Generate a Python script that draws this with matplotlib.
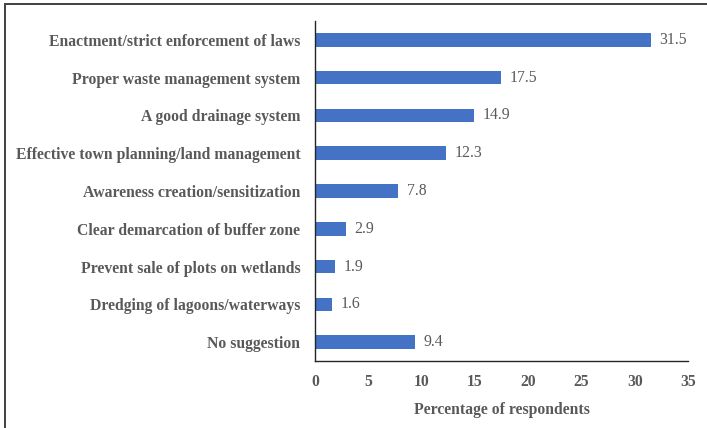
import matplotlib.pyplot as plt
from matplotlib.patches import Rectangle

categories = [
    "Enactment/strict enforcement of laws",
    "Proper waste management system",
    "A good drainage system",
    "Effective town planning/land management",
    "Awareness creation/sensitization",
    "Clear demarcation of buffer zone",
    "Prevent sale of plots on wetlands",
    "Dredging of lagoons/waterways",
    "No suggestion",
]
percentages = [31.5, 17.5, 14.9, 12.3, 7.8, 2.9, 1.9, 1.6, 9.4]
x_ticks = [0, 5, 10, 15, 20, 25, 30, 35]

plt.rcParams["font.family"] = ["Liberation Serif", "DejaVu Serif"]
text_color = "#595959"
bar_color = "#4472C4"

fig = plt.figure(figsize=(7.07, 4.28), dpi=100)
ax = fig.add_axes([0.4455, 0.1565, 0.5276, 0.7945])

positions = list(range(len(categories)))
ax.barh(positions, percentages, height=0.36, color=bar_color)
for y, v in zip(positions, percentages):
    ax.text(v + 0.8, y, f"{v}", va="center", ha="left", fontsize=11.3, color=text_color)

ax.set_ylim(len(categories) - 0.5, -0.5)
ax.set_xlim(0, 35)
ax.set_xticks(x_ticks)
ax.set_xticklabels([str(t) for t in x_ticks], fontsize=11.3, fontweight="bold", color=text_color)
ax.set_yticks(positions)
ax.set_yticklabels(categories, fontsize=11.3, fontweight="bold", color=text_color)
ax.tick_params(axis="x", length=0, pad=9.5)
ax.tick_params(axis="y", length=0, pad=10.5)

for side in ("top", "right"):
    ax.spines[side].set_visible(False)
for side in ("left", "bottom"):
    ax.spines[side].set_color("#262626")
    ax.spines[side].set_linewidth(1.0)

ax.set_xlabel("Percentage of respondents", fontsize=11.3, fontweight="bold",
              color=text_color, labelpad=8.5)

# frame only shows along the top and left edges
fig.patches.append(Rectangle((0.0064, -0.05), 1.05, 1.04, transform=fig.transFigure,
                             fill=False, edgecolor="#404040", linewidth=1.4))

fig.savefig("out.png", dpi=100)
